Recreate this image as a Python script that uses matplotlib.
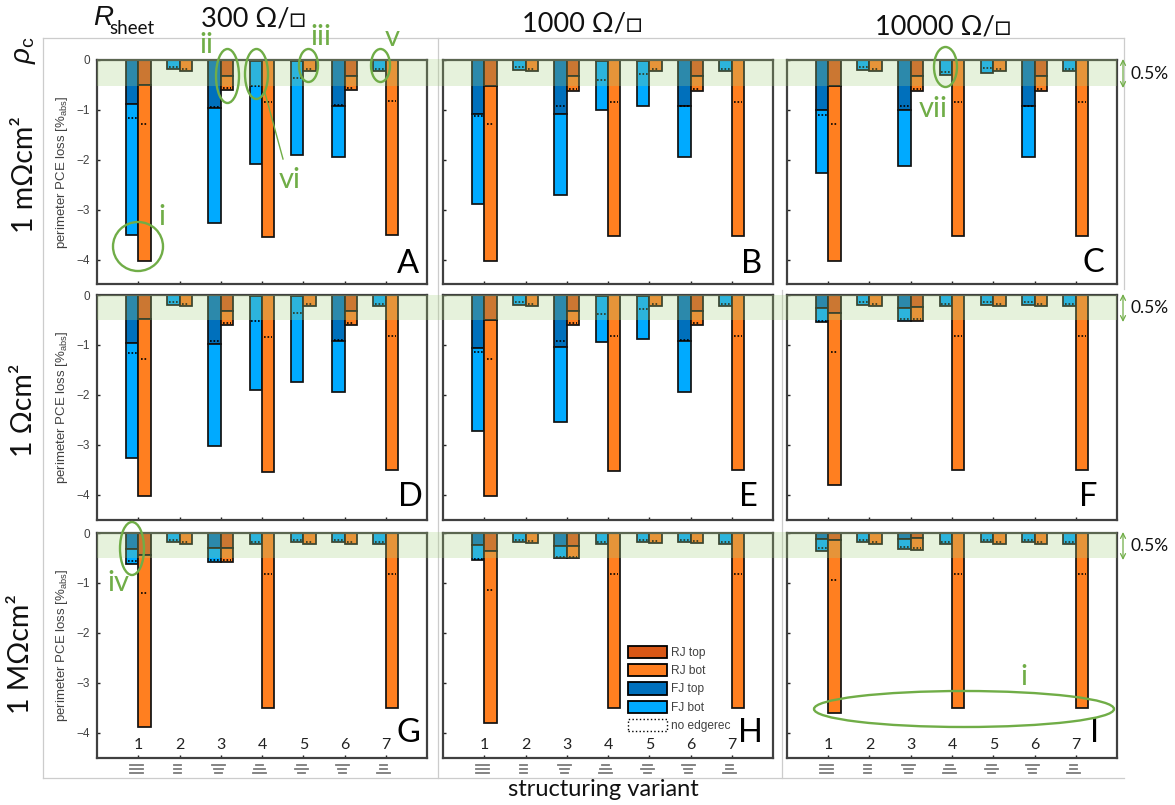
import matplotlib
matplotlib.use("Agg")
import matplotlib.pyplot as plt
from matplotlib.lines import Line2D
from matplotlib.patches import Ellipse, FancyArrowPatch, Patch, Rectangle
from matplotlib.transforms import Affine2D, blended_transform_factory

plt.rcParams["mathtext.fontset"] = "custom"
plt.rcParams["mathtext.rm"] = "Liberation Sans"
plt.rcParams["mathtext.it"] = "Liberation Sans:italic"

W, H = 1175, 805
# pixel coordinates of the picture, y going down
px = Affine2D().scale(1, -1).translate(0, H)

panels = ["A", "B", "C", "D", "E", "F", "G", "H", "I"]
variants = [1, 2, 3, 4, 5, 6, 7]

# one row per panel, 7 variants each. top = border of the dark segment, 0 if there is none
fj_top = [
    [-0.89, 0, -0.96, -0.03, -0.03, -0.93, 0],
    [-1.08, 0, -1.08, -0.03, -0.03, -0.93, 0],
    [-1.00, 0, -1.00, 0, 0, -0.93, 0],
    [-0.97, 0, -0.99, -0.03, -0.03, -0.92, 0],
    [-1.06, 0, -1.05, -0.03, -0.03, -0.92, 0],
    [-0.27, 0, -0.27, 0, 0, 0, 0],
    [-0.32, 0, -0.30, 0, 0, 0, 0],
    [-0.25, 0, -0.26, 0, 0, 0, 0],
    [-0.13, 0, -0.12, 0, 0, 0, 0],
]
fj_total = [
    [-3.50, -0.19, -3.27, -2.08, -1.90, -1.95, -0.22],
    [-2.88, -0.20, -2.70, -1.00, -0.93, -1.95, -0.23],
    [-2.26, -0.20, -2.12, -0.30, -0.27, -1.95, -0.23],
    [-3.26, -0.20, -3.03, -1.90, -1.74, -1.94, -0.23],
    [-2.72, -0.20, -2.55, -0.94, -0.88, -1.94, -0.23],
    [-0.55, -0.20, -0.52, -0.23, -0.20, -0.20, -0.23],
    [-0.63, -0.19, -0.58, -0.22, -0.19, -0.19, -0.22],
    [-0.55, -0.18, -0.51, -0.22, -0.18, -0.18, -0.22],
    [-0.36, -0.19, -0.32, -0.22, -0.19, -0.19, -0.22],
]
fj_noedge = [
    [-1.17, -0.14, -0.94, -0.53, -0.37, -0.91, -0.18],
    [-1.13, -0.15, -0.93, -0.40, -0.28, -0.92, -0.19],
    [-1.11, -0.15, -0.92, -0.24, -0.17, -0.92, -0.19],
    [-1.17, -0.15, -0.93, -0.53, -0.36, -0.90, -0.19],
    [-1.14, -0.15, -0.93, -0.38, -0.28, -0.90, -0.19],
    [-0.52, -0.15, -0.49, -0.19, -0.15, -0.15, -0.19],
    [-0.57, -0.14, -0.54, -0.18, -0.14, -0.14, -0.18],
    [-0.52, -0.14, -0.48, -0.18, -0.14, -0.14, -0.18],
    [-0.31, -0.15, -0.28, -0.18, -0.15, -0.15, -0.18],
]
rj_top = [
    [-0.50, 0, -0.33, 0, 0, -0.33, 0],
    [-0.52, 0, -0.32, 0, 0, -0.32, 0],
    [-0.52, 0, -0.32, 0, 0, -0.32, 0],
    [-0.49, 0, -0.32, 0, 0, -0.32, 0],
    [-0.50, 0, -0.32, 0, 0, -0.32, 0],
    [-0.37, 0, -0.25, 0, 0, 0, 0],
    [-0.44, 0, -0.30, 0, 0, 0, 0],
    [-0.36, 0, -0.26, 0, 0, 0, 0],
    [-0.14, 0, -0.10, 0, 0, 0, 0],
]
rj_total = [
    [-4.03, -0.22, -0.61, -3.54, -0.22, -0.61, -3.51],
    [-4.03, -0.23, -0.62, -3.52, -0.23, -0.62, -3.52],
    [-4.02, -0.23, -0.62, -3.52, -0.23, -0.62, -3.52],
    [-4.03, -0.23, -0.61, -3.54, -0.23, -0.61, -3.51],
    [-4.03, -0.23, -0.61, -3.52, -0.23, -0.61, -3.51],
    [-3.80, -0.23, -0.52, -3.51, -0.23, -0.23, -3.50],
    [-3.89, -0.22, -0.58, -3.51, -0.22, -0.22, -3.51],
    [-3.80, -0.21, -0.51, -3.51, -0.21, -0.21, -3.50],
    [-3.61, -0.22, -0.34, -3.51, -0.22, -0.22, -3.50],
]
rj_noedge = [
    [-1.28, -0.18, -0.57, -0.84, -0.18, -0.57, -0.83],
    [-1.28, -0.19, -0.58, -0.84, -0.19, -0.58, -0.84],
    [-1.28, -0.19, -0.58, -0.84, -0.19, -0.58, -0.84],
    [-1.28, -0.19, -0.57, -0.84, -0.19, -0.57, -0.83],
    [-1.28, -0.19, -0.57, -0.83, -0.19, -0.57, -0.83],
    [-1.14, -0.19, -0.49, -0.83, -0.19, -0.19, -0.82],
    [-1.20, -0.18, -0.54, -0.83, -0.18, -0.18, -0.83],
    [-1.14, -0.17, -0.48, -0.83, -0.17, -0.17, -0.82],
    [-0.95, -0.18, -0.30, -0.83, -0.18, -0.18, -0.82],
]
# widths in px of the three lines in the little layer icons under the bottom row
icon_widths = [(13, 13, 13), (7, 7, 7), (13, 9, 7), (7, 11, 13), (9, 13, 7), (13, 8, 7), (7, 7, 13)]

col_left = [97, 443, 787]
row_top = [60, 295, 533]
ax_w, ax_h = 330, 224.5

FJ_TOP, FJ_BOT = "#0070BC", "#00AAFF"
RJ_TOP, RJ_BOT = "#D95716", "#FF7F20"
GREEN = "#70AD47"
DARK = "#404040"
BIG = ["Lato", "DejaVu Sans"]
SMALL = "Liberation Sans"
bw = 0.3

fig = plt.figure(figsize=(W / 100, H / 100), dpi=100, facecolor="white")


def segments(ax, x, top, total, noedge, c_top, c_bot, dot_w):
    if top < 0:
        ax.bar(x, top, bw, color=c_top, edgecolor="#111111", linewidth=1.25, zorder=1)
    ax.bar(x, total - top, bw, bottom=top, color=c_bot, edgecolor="#111111", linewidth=1.25, zorder=1)
    ax.plot([x - dot_w, x + dot_w], [noedge, noedge], color="black", lw=1.2,
            ls=(0, (1, 1.1)), zorder=1.5)


for n, letter in enumerate(panels):
    row, col = n // 3, n % 3
    l, t = col_left[col], row_top[row]
    ax = fig.add_axes([l / W, 1 - (t + ax_h) / H, ax_w / W, ax_h / H])
    for i, v in enumerate(variants):
        segments(ax, v - bw / 2, fj_top[n][i], fj_total[n][i], fj_noedge[n][i], FJ_TOP, FJ_BOT, 0.11)
        segments(ax, v + bw / 2, rj_top[n][i], rj_total[n][i], rj_noedge[n][i], RJ_TOP, RJ_BOT, 0.09)
    ax.set_xlim(0, 8)
    ax.set_ylim(-4.5, 0)
    ax.set_xticks(variants)
    ax.set_yticks([0, -1, -2, -3, -4])
    ax.tick_params(axis="y", direction="in", length=2.5, width=1, color="#222222",
                   labelleft=col == 0, labelsize=8.5, labelcolor=DARK, pad=5)
    ax.tick_params(axis="x", direction="in", length=2.5, width=1, color="#222222",
                   labelbottom=row == 2, labelsize=11.5, labelcolor="#222222", pad=-14)
    for lab in ax.get_xticklabels():
        lab.set_fontfamily("Lato")
    for lab in ax.get_yticklabels():
        lab.set_fontfamily(SMALL)
    for s in ax.spines.values():
        s.set_linewidth(1.6)
        s.set_color(DARK)
    if col == 0:
        ax.set_ylabel(r"perimeter PCE loss [%$_{\mathrm{abs}}$]", fontsize=9.5, color=DARK,
                      family=SMALL, labelpad=5)
    if row == 2:
        tr = blended_transform_factory(ax.transData, px)
        for v, widths in zip(variants, icon_widths):
            for yy, w in zip((765, 768.8, 772.7), widths):
                half = w / 2 / (ax_w / 8)
                ax.add_line(Line2D([v - 0.05 - half, v - 0.05 + half], [yy, yy], transform=tr,
                                   color="#7a7a7a", lw=1.3, clip_on=False))
    if letter == "H":
        handles = [Patch(facecolor=RJ_TOP, edgecolor="black", lw=1.3),
                   Patch(facecolor=RJ_BOT, edgecolor="black", lw=1.3),
                   Patch(facecolor=FJ_TOP, edgecolor="black", lw=1.3),
                   Patch(facecolor=FJ_BOT, edgecolor="black", lw=1.3),
                   Patch(facecolor="white", edgecolor="black", lw=1.0, ls=":")]
        ax.legend(handles, ["RJ top", "RJ bot", "FJ top", "FJ bot", "no edgerec"],
                  loc="upper left", bbox_to_anchor=(628, 646), bbox_transform=px,
                  frameon=False, borderaxespad=0, borderpad=0,
                  prop={"family": SMALL, "size": 8.6}, labelcolor=DARK,
                  handlelength=3.3, handleheight=1.2, labelspacing=0.42, handletextpad=0.3)


def txt(x, y, s, size, color="#111111", family=BIG, **kw):
    kw.setdefault("ha", "center")
    kw.setdefault("va", "center")
    fig.text(x, y, s, transform=px, fontsize=size, color=color, family=family, **kw)


# green 0.5 % band on top of the bars, running across all columns
for y0, y1 in [(59, 85.5), (295, 320), (532, 557.5)]:
    fig.add_artist(Rectangle((97, y0), 1020, y1 - y0, transform=px, facecolor="#A6CF7E",
                             alpha=0.27, edgecolor="none", zorder=3))

for y0, y1 in [(59, 88), (294, 322), (532, 560)]:
    fig.add_artist(FancyArrowPatch((1123, y0), (1123, y1), transform=px, arrowstyle="<->",
                                   mutation_scale=9, color=GREEN, lw=0.9, shrinkA=0, shrinkB=0))
    txt(1150, (y0 + y1) / 2, "0.5%", 12.5)

# grey frames behind the panels
for xs, ys in [((43, 1124), (38, 38)), ((43, 1124), (778, 778)), ((43, 43), (38, 778)),
               ((438, 438), (38, 778)), ((782, 782), (290, 778)), ((1124, 1124), (38, 289))]:
    fig.add_artist(Line2D(xs, ys, transform=px, color="#cccccc", lw=0.9, zorder=-1))

txt(253, 19, "300 Ω/□", 19.5)
txt(582, 24, "1000 Ω/□", 19.5)
txt(943, 27, "10000 Ω/□", 19.5)
txt(93, 18, "R", 20, style="italic", family=SMALL, ha="left")
txt(109, 28, "sheet", 13.5, ha="left")
txt(25, 50, r"$\it{\rho}_{\mathrm{c}}$", 20, rotation=90, family=SMALL)
txt(25, 175, "1 mΩcm²", 20.5, rotation=90)
txt(24, 410, "1 Ωcm²", 20.5, rotation=90)
txt(21, 654, "1 MΩcm²", 20.5, rotation=90)
txt(603, 789, "structuring variant", 17)

letter_pos = [(408, 264), (752, 264), (1093, 263), (410, 497), (748, 497), (1088, 497),
              (408, 733), (750, 733), (1095, 733)]
for letter, (x, y) in zip(panels, letter_pos):
    txt(x, y, letter, 23.5, color="black")

# green call-outs
for cx, cy, w, h in [(138, 246.5, 50, 49), (227.5, 76, 23, 54), (256.5, 74, 23, 50), (308.5, 65.5, 19, 33),
                     (380.5, 65.5, 19, 33), (132, 548.5, 24, 53), (945.5, 67, 23, 40), (964, 709, 300, 36)]:
    fig.add_artist(Ellipse((cx, cy), w, h, transform=px, facecolor="none", edgecolor=GREEN,
                           lw=1.7, zorder=4))
fig.add_artist(Line2D((265, 283), (93, 159), transform=px, color=GREEN, lw=1.0, zorder=4))
for x, y, s in [(162, 217, "i"), (206, 45, "ii"), (321, 37, "iii"), (392, 38, "v"), (290, 180, "vi"),
                (118, 583, "iv"), (933, 109, "vii"), (1024, 677, "i")]:
    txt(x, y, s, 21, color=GREEN)

fig.savefig("out.png", dpi=100, facecolor="white")
